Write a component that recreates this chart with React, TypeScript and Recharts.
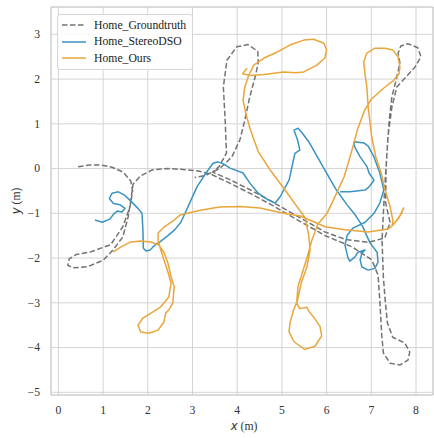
import React from 'react';
import { LineChart, Line, XAxis, YAxis, CartesianGrid, Legend, ReferenceArea } from 'recharts';

// trajectories as [x, y] in metres
const groundtruthPath: number[][] = [
  [0.44, 0.04], [0.7, 0.08], [0.95, 0.08], [1.2, 0.03], [1.45, -0.08], [1.62, -0.28], [1.66, -0.5],
  [1.6, -0.86], [1.44, -1.3], [1.17, -1.7], [0.73, -1.86], [0.4, -1.92], [0.24, -2.02], [0.21, -2.16],
  [0.32, -2.22], [0.66, -2.19], [1.0, -2.05], [1.22, -1.82], [1.44, -1.53], [1.56, -1.08], [1.62, -0.7],
  [1.67, -0.35], [1.83, -0.17], [2.1, -0.03], [2.45, 0.0], [2.79, -0.02], [3.1, -0.05], [3.4, -0.12],
  [3.8, -0.31], [4.3, -0.56], [4.8, -0.83], [5.3, -1.12], [5.97, -1.5], [6.57, -1.75], [7.01, -2.04],
  [7.15, -2.38], [7.19, -2.94], [7.23, -3.68], [7.27, -4.12], [7.42, -4.35], [7.64, -4.39], [7.82, -4.28],
  [7.86, -4.1], [7.75, -3.9], [7.48, -3.77], [7.36, -3.45], [7.31, -2.94], [7.27, -2.43], [7.24, -1.6],
  [7.27, -1.0], [7.3, -0.41], [7.35, 0.34], [7.4, 1.08], [7.46, 1.6], [7.57, 2.04], [7.64, 2.36],
  [7.6, 2.58], [7.66, 2.74], [7.82, 2.79], [8.04, 2.7], [8.11, 2.5], [7.98, 2.27], [7.75, 2.02],
  [7.57, 1.82], [7.46, 1.37], [7.37, 0.7], [7.33, -0.03], [7.32, -0.77], [7.42, -1.2], [7.3, -1.55],
  [6.93, -1.65], [6.41, -1.58], [5.97, -1.42], [5.3, -1.04], [4.8, -0.75], [4.3, -0.48], [3.8, -0.23],
  [3.45, -0.08], [3.6, 0.05], [3.76, 0.35], [3.73, 1.08], [3.69, 1.82], [3.77, 2.42], [3.99, 2.72],
  [4.24, 2.77], [4.46, 2.62], [4.47, 2.36], [4.4, 2.04], [4.28, 1.6], [4.17, 1.08], [4.06, 0.64],
  [3.88, 0.26], [3.61, 0.0], [3.3, -0.15], [3.05, -0.2],
];

const stereoDsoPath: number[][] = [
  [0.82, -1.15], [0.98, -1.2], [1.15, -1.13], [1.25, -1.0], [1.32, -0.95], [1.42, -0.97], [1.49, -0.89],
  [1.38, -0.81], [1.23, -0.78], [1.14, -0.67], [1.2, -0.55], [1.34, -0.52], [1.49, -0.6], [1.64, -0.75],
  [1.78, -0.89], [1.87, -1.0], [1.89, -1.37], [1.9, -1.78], [1.96, -1.84], [2.05, -1.82], [2.16, -1.71],
  [2.27, -1.64], [2.45, -1.5], [2.6, -1.37], [2.74, -1.2], [2.9, -0.85], [3.1, -0.41], [3.3, -0.1],
  [3.46, 0.12], [3.57, 0.15], [3.7, 0.1], [3.84, 0.01], [4.13, -0.1], [4.28, -0.32], [4.47, -0.55],
  [4.69, -0.7], [4.85, -0.77], [4.96, -0.63], [5.16, -0.26], [5.29, 0.34], [5.4, 0.41], [5.35, 0.64],
  [5.27, 0.86], [5.36, 0.9], [5.45, 0.8], [5.6, 0.6], [5.8, 0.25], [6.0, -0.1], [6.2, -0.45],
  [6.45, -0.8], [6.65, -1.05], [6.8, -1.28], [6.97, -1.66], [7.13, -1.87], [7.15, -2.09], [7.08, -2.23],
  [6.93, -2.27], [6.79, -2.2], [6.75, -2.04], [6.79, -1.89], [6.86, -1.82], [6.7, -1.87], [6.63, -1.98],
  [6.52, -2.07], [6.48, -2.0], [6.41, -1.71], [6.46, -1.49], [6.59, -1.33], [6.86, -1.2], [7.06, -1.0],
  [7.19, -0.77], [7.28, -0.48], [7.19, -0.1], [7.06, 0.26], [6.93, 0.5], [6.84, 0.57], [6.62, 0.6],
  [6.62, 0.5], [6.75, 0.26], [6.9, 0.05], [6.95, -0.1], [7.06, -0.26], [6.95, -0.41], [6.86, -0.48],
  [6.52, -0.52], [6.3, -0.52],
];

const oursPath: number[][] = [
  [4.22, 2.24], [4.12, 2.12], [4.3, 2.08], [4.6, 2.1], [5.04, 2.16], [5.3, 2.14], [5.49, 2.16],
  [5.78, 2.31], [5.96, 2.47], [6.0, 2.65], [5.94, 2.8], [5.71, 2.89], [5.49, 2.87], [5.18, 2.76],
  [4.89, 2.6], [4.6, 2.47], [4.37, 2.31], [4.26, 2.09], [4.17, 1.82], [4.13, 1.53], [4.2, 1.2],
  [4.3, 0.85], [4.47, 0.38], [4.75, -0.05], [5.05, -0.45], [5.3, -0.8], [5.52, -1.1], [5.6, -1.5],
  [5.63, -1.82], [5.56, -2.2], [5.43, -2.56], [5.35, -2.94], [5.26, -3.16], [5.18, -3.45], [5.16, -3.65],
  [5.27, -3.87], [5.51, -4.04], [5.74, -3.97], [5.89, -3.74], [5.85, -3.52], [5.71, -3.32], [5.6, -3.19],
  [5.56, -3.1], [5.4, -3.13], [5.33, -3.0], [5.36, -2.63], [5.45, -2.35], [5.56, -2.0], [5.67, -1.6],
  [5.8, -1.25], [6.01, -1.0], [6.2, -0.6], [6.39, -0.19], [6.55, 0.35], [6.7, 0.9], [6.85, 1.3],
  [7.0, 1.55], [7.28, 1.8], [7.5, 1.97], [7.62, 2.12], [7.64, 2.27], [7.6, 2.49], [7.48, 2.65],
  [7.3, 2.69], [7.08, 2.69], [6.9, 2.58], [6.83, 2.38], [6.86, 2.1], [6.9, 1.82], [6.93, 1.37],
  [7.01, 0.7], [7.1, 0.26], [7.22, -0.1], [7.3, -0.45], [7.42, -0.85], [7.48, -1.15], [7.47, -1.27],
  [7.57, -1.15], [7.68, -1.0], [7.72, -0.88], [7.62, -1.1], [7.47, -1.28], [7.37, -1.35], [6.93, -1.42],
  [6.41, -1.37], [5.97, -1.3], [5.41, -1.06], [4.96, -0.98], [4.51, -0.88], [4.06, -0.85], [3.61, -0.86],
  [3.17, -0.93], [2.72, -1.04], [2.59, -1.15], [2.36, -1.31], [2.23, -1.44], [2.23, -1.6], [2.29, -1.82],
  [2.36, -2.04], [2.45, -2.31], [2.52, -2.56], [2.47, -2.87], [2.29, -3.09], [2.07, -3.23], [1.89, -3.34],
  [1.78, -3.5], [1.84, -3.65], [2.02, -3.68], [2.23, -3.61], [2.36, -3.43], [2.4, -3.23], [2.47, -3.16],
  [2.56, -3.0], [2.59, -2.64], [2.52, -2.42], [2.45, -2.11], [2.36, -1.87], [2.25, -1.71], [2.07, -1.64],
  [1.84, -1.62], [1.62, -1.64], [1.4, -1.75], [1.22, -1.87],
];

const xTicks = [0, 1, 2, 3, 4, 5, 6, 7, 8];
const yTicks = [-5, -4, -3, -2, -1, 0, 1, 2, 3];
const xDomain = [-0.166, 8.38];
const yDomain = [-5.06, 3.61];

const series = [
  { name: 'Home_Groundtruth', path: groundtruthPath, color: '#737373', dash: '5.5 2.5' },
  { name: 'Home_StereoDSO', path: stereoDsoPath, color: '#3a93c3', dash: undefined },
  { name: 'Home_Ours', path: oursPath, color: '#e9a63b', dash: undefined },
];

const serif = "'Times New Roman', Times, 'Liberation Serif', 'Noto Serif', 'DejaVu Serif', serif";
const mathSans = "'DejaVu Sans', sans-serif";
const textStyle = { fontFamily: serif, fontSize: 11.7 };
const fmt = (v: number) => String(v).replace('-', '\u2212');

const XTick = ({ x, y, payload }: any) => (
  <text x={x} y={y + 10.5} textAnchor="middle" style={textStyle} fill="#333">
    {fmt(payload.value)}
  </text>
);

const YTick = ({ x, y, payload }: any) => (
  <text x={x - 3} y={y + 3.8} textAnchor="end" style={textStyle} fill="#333">
    {fmt(payload.value)}
  </text>
);

const XLabel = ({ viewBox }: any) => (
  <text x={viewBox.x + viewBox.width / 2 + 2} y={429.5} textAnchor="middle" style={textStyle} fill="#333">
    <tspan style={{ fontFamily: mathSans, fontStyle: 'italic' }}>x</tspan> (m)
  </text>
);

const YLabel = ({ viewBox }: any) => {
  const cy = viewBox.y + viewBox.height / 2;
  return (
    <text x={20} y={cy} transform={`rotate(-90, 20, ${cy})`} textAnchor="middle" style={textStyle} fill="#333">
      <tspan style={{ fontFamily: mathSans, fontStyle: 'italic' }}>y</tspan> (m)
    </text>
  );
};

const LegendBox = () => (
  <div
    style={{
      background: 'rgba(255,255,255,0.85)',
      border: '1px solid #d6d6d6',
      borderRadius: 3,
      padding: '2px 6px 2px 4px',
      fontFamily: serif,
      fontSize: 11.7,
      color: '#222',
    }}
  >
    {series.map((s) => (
      <div key={s.name} style={{ display: 'flex', alignItems: 'center', height: 16.5 }}>
        <svg width={24} height={6} style={{ marginRight: 8 }}>
          <line x1={0} y1={3} x2={24} y2={3} stroke={s.color} strokeWidth={1.5} strokeDasharray={s.dash} />
        </svg>
        <span>{s.name}</span>
      </div>
    ))}
  </div>
);

export default function App() {
  return (
    <div style={{ position: 'absolute', left: 0, top: 0, width: 434, height: 438, background: '#fff' }}>
      <LineChart width={434} height={438} margin={{ top: 7, right: 1, bottom: 0, left: 0 }}>
        <CartesianGrid stroke="#d4d4d4" strokeWidth={1} />
        <XAxis
          dataKey="x"
          type="number"
          domain={xDomain}
          ticks={xTicks}
          allowDataOverflow
          axisLine={false}
          tickLine={false}
          height={43}
          tick={<XTick />}
          label={<XLabel />}
        />
        <YAxis
          dataKey="y"
          type="number"
          domain={yDomain}
          ticks={yTicks}
          allowDataOverflow
          axisLine={false}
          tickLine={false}
          width={51}
          tick={<YTick />}
          label={<YLabel />}
        />
        <ReferenceArea
          x1={xDomain[0]}
          x2={xDomain[1]}
          y1={yDomain[0]}
          y2={yDomain[1]}
          fill="none"
          stroke="#cccccc"
          strokeWidth={1}
          ifOverflow="visible"
        />
        {series.map((s) => (
          <Line
            key={s.name}
            name={s.name}
            data={s.path.map(([x, y]) => ({ x, y }))}
            dataKey="y"
            type="linear"
            stroke={s.color}
            strokeWidth={1.5}
            strokeDasharray={s.dash}
            strokeLinejoin="round"
            dot={false}
            activeDot={false}
            isAnimationActive={false}
          />
        ))}
        <Legend
          layout="vertical"
          align="center"
          verticalAlign="middle"
          content={<LegendBox />}
          wrapperStyle={{ left: 57, top: 14, width: 'auto', height: 'auto' }}
        />
      </LineChart>
    </div>
  );
}
